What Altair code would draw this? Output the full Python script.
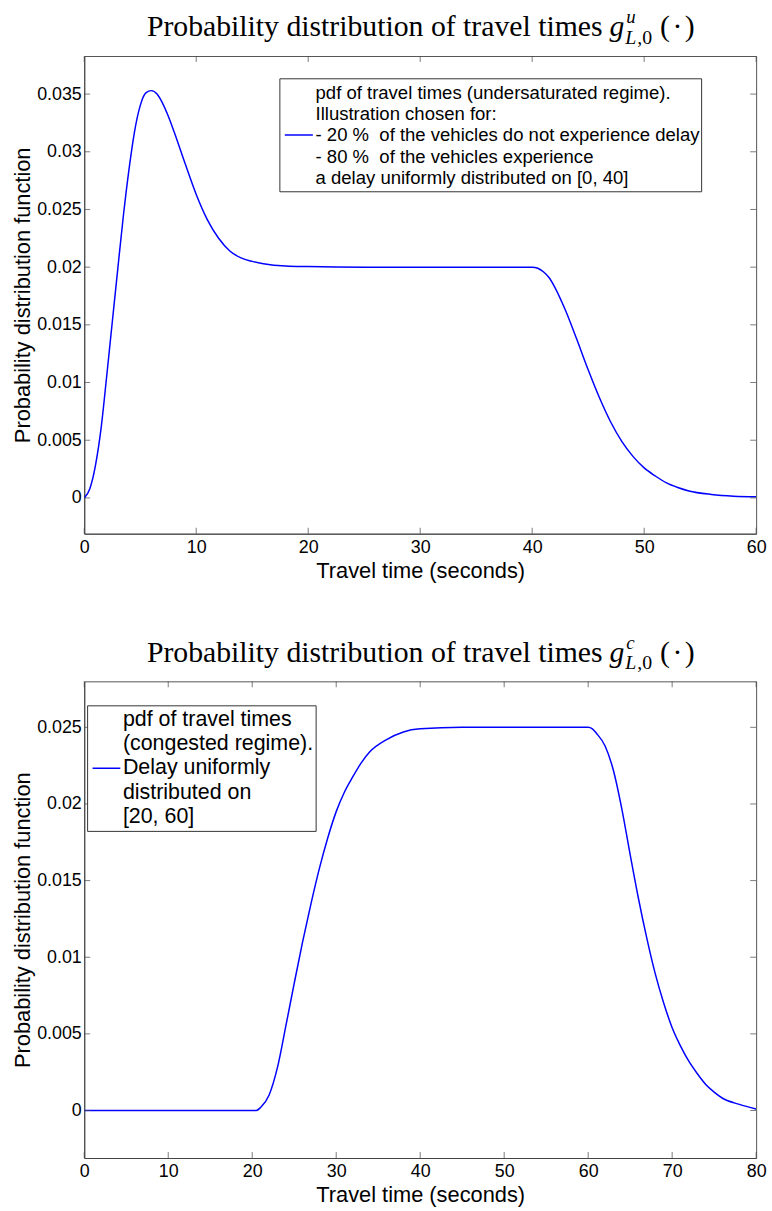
import altair as alt
import pandas as pd

# ---------------- data ----------------
top_t = [0, 0.5, 1, 1.5, 2, 2.5, 3, 3.5, 4, 4.5, 5, 5.5, 6, 6.5, 7, 7.5, 8, 9, 10, 11,
         12, 13, 14, 15, 16, 18, 20, 25, 30, 35, 40, 40.5, 41, 41.5, 42, 43, 44, 45,
         46, 47, 48, 49, 50, 51, 52, 53, 54, 56, 58, 60]
top_pdf = [0.0, 0.0008, 0.0028, 0.006, 0.0105, 0.0152, 0.0199, 0.0245, 0.0285, 0.0318,
           0.0340, 0.0351, 0.0353, 0.0350, 0.0342, 0.0331, 0.0318, 0.0290, 0.0263, 0.0241,
           0.0225, 0.0214, 0.0208, 0.0205, 0.0203, 0.0201, 0.02005, 0.0200, 0.0200, 0.0200,
           0.0200, 0.0199, 0.0196, 0.0191, 0.0183, 0.0162, 0.0137, 0.0111, 0.0087, 0.0066,
           0.0049, 0.0036, 0.0026, 0.0019, 0.0013, 0.0009, 0.0006, 0.0003, 0.00015, 0.0001]

bot_t = [0, 10, 20, 20.5, 21, 22, 23, 24, 25, 26, 27, 28, 29, 30, 31, 32, 33, 34, 36, 38,
         40, 45, 50, 55, 60, 60.5, 61, 62, 63, 64, 65, 66, 67, 68, 69, 70, 71, 72, 73, 74,
         75, 76, 78, 80]
bot_pdf = [0.0, 0.0, 0.0, 0.0, 0.0002, 0.0010, 0.0028, 0.0055, 0.0083, 0.0110, 0.0135,
           0.0158, 0.0178, 0.0195, 0.0208, 0.0218, 0.0227, 0.0234, 0.0242, 0.0247, 0.0249,
           0.0250, 0.0250, 0.0250, 0.0250, 0.0249, 0.0246, 0.0238, 0.0222, 0.0197, 0.0167,
           0.0138, 0.0112, 0.0089, 0.0070, 0.0054, 0.0042, 0.0032, 0.0024, 0.0017, 0.0012,
           0.0008, 0.0004, 0.0001]

top_xticks = [0, 10, 20, 30, 40, 50, 60]
top_yticks = [0, 0.005, 0.01, 0.015, 0.02, 0.025, 0.03, 0.035]
bot_xticks = [0, 10, 20, 30, 40, 50, 60, 70, 80]
bot_yticks = [0, 0.005, 0.01, 0.015, 0.02, 0.025]

top_xdomain = [0, 60]
top_ydomain = [-0.0031, 0.0383]
bot_xdomain = [0, 80]
bot_ydomain = [-0.0031, 0.0280]

top_legend_lines = [
    "pdf of travel times (undersaturated regime).",
    "Illustration chosen for:",
    "- 20 %\u00a0 of the vehicles do not experience delay",
    "- 80 %\u00a0 of the vehicles experience",
    "a delay uniformly distributed on [0, 40]",
]
bot_legend_lines = [
    "pdf of travel times",
    "(congested regime).",
    "Delay uniformly",
    "distributed on",
    "[20, 60]",
]

title_main = "Probability distribution of travel times"
top_sup = "u"
bot_sup = "c"
x_title = "Travel time (seconds)"
y_title = "Probability distribution function"

# ---------------- styling ----------------
W = 678
H1 = 482
H2 = 481
SANS = "Liberation Sans"
SERIF = "Liberation Serif"
AX = "#444444"
BLUE = "#0000ff"


def panel(t, v, xdom, ydom, xticks, yticks, H, sup,
          box, sample, text_x, text_y0, text_dy, lines, lsize):
    xs = alt.Scale(domain=xdom, nice=False, zero=False)
    ys = alt.Scale(domain=ydom, nice=False, zero=False)
    xaxis = alt.Axis(values=xticks, title=x_title, labelFlush=False,
                     labelPadding=5, titleBaseline="alphabetic", titleY=44)
    yaxis = alt.Axis(values=yticks, title=y_title, format="~g",
                     labelPadding=3, titleBaseline="alphabetic", titleX=-55)
    df = pd.DataFrame({"t": t, "v": v})
    line = alt.Chart(df).mark_line(color=BLUE, strokeWidth=1.5, interpolate="monotone",
                                   clip=True).encode(
        x=alt.X("t:Q", scale=xs, axis=xaxis, title=x_title),
        y=alt.Y("v:Q", scale=ys, axis=yaxis, title=y_title),
    )
    xt = pd.DataFrame({"xt": xticks})
    yt = pd.DataFrame({"yt": yticks})
    tk = dict(thickness=1, color=AX, size=6)
    xb = alt.Chart(xt).mark_tick(orient="vertical", **tk).encode(
        x=alt.X("xt:Q", scale=xs, axis=xaxis, title=x_title), y=alt.value(H - 3))
    xtop = alt.Chart(xt).mark_tick(orient="vertical", **tk).encode(
        x=alt.X("xt:Q", scale=xs, axis=xaxis, title=x_title), y=alt.value(3))
    yl = alt.Chart(yt).mark_tick(orient="horizontal", **tk).encode(
        y=alt.Y("yt:Q", scale=ys, axis=yaxis, title=y_title), x=alt.value(3))
    yr = alt.Chart(yt).mark_tick(orient="horizontal", **tk).encode(
        y=alt.Y("yt:Q", scale=ys, axis=yaxis, title=y_title), x=alt.value(W - 3))

    one = pd.DataFrame({"k": [0]})
    lbox = alt.Chart(one).mark_rect(fill="white", stroke="#333333", strokeWidth=1).encode(
        x=alt.value(box[0]), x2=alt.value(box[1]), y=alt.value(box[2]), y2=alt.value(box[3]))
    lsample = alt.Chart(one).mark_rule(color=BLUE, strokeWidth=1.5).encode(
        x=alt.value(sample[0]), x2=alt.value(sample[1]), y=alt.value(sample[2]))
    ldf = pd.DataFrame({"line": lines, "i": list(range(len(lines)))})
    ltext = alt.Chart(ldf).transform_calculate(
        ly=f"{text_y0} + datum.i * {text_dy}"
    ).mark_text(align="left", baseline="middle", font=SANS, fontSize=lsize,
                color="black").encode(
        x=alt.value(text_x), y=alt.Y("ly:Q", scale=None), text="line:N")

    # title built from pieces (main text, italic g, super/subscripts)
    A = 530
    tb = -20
    def txt(s, x, y, size, style="normal", align="left"):
        return alt.Chart(one).mark_text(
            text=s, align=align, baseline="alphabetic", font=SERIF, fontSize=size,
            fontStyle=style, color="black").encode(x=alt.value(x), y=alt.value(y))
    t1 = txt(title_main, A - 7, tb, 30, align="right")
    t2 = txt("g", A, tb, 30, "italic")
    t3 = txt(sup, A + 17, tb - 13, 19, "italic")
    t4 = txt("L", A + 16, tb + 8, 20, "italic")
    t5 = txt(",0", A + 28, tb + 8, 20)
    t6 = txt("(\u200a\u00b7\u200a)", A + 51, tb, 30)

    return alt.layer(line, xb, xtop, yl, yr, lbox, lsample, ltext,
                     t1, t2, t3, t4, t5, t6).properties(width=W, height=H)


top = panel(top_t, top_pdf, top_xdomain, top_ydomain, top_xticks, top_yticks, H1, top_sup,
            box=(197.4, 623, 23, 137), sample=(202.4, 230.7, 79.7),
            text_x=233.4, text_y0=37, text_dy=21.5, lines=top_legend_lines, lsize=18.7)
bot = panel(bot_t, bot_pdf, bot_xdomain, bot_ydomain, bot_xticks, bot_yticks, H2, bot_sup,
            box=(3.4, 234, 24.7, 151.4), sample=(8.4, 36.4, 87.7),
            text_x=39, text_y0=39.4, text_dy=24.3, lines=bot_legend_lines, lsize=21.6)

chart = alt.vconcat(top, bot, spacing=149, bounds="flush").properties(
    padding={"left": 11, "top": 2, "right": 5, "bottom": 5}
).configure_view(stroke="#555555", strokeWidth=1).configure_axis(
    domainColor=AX, ticks=False, tickSize=0, grid=False,
    labelFont=SANS, labelFontSize=18, labelColor="black",
    titleFont=SANS, titleFontSize=22, titleFontWeight="normal", titleColor="black",
)

chart.save("out.html", embed_options={"renderer": "svg", "actions": False})
